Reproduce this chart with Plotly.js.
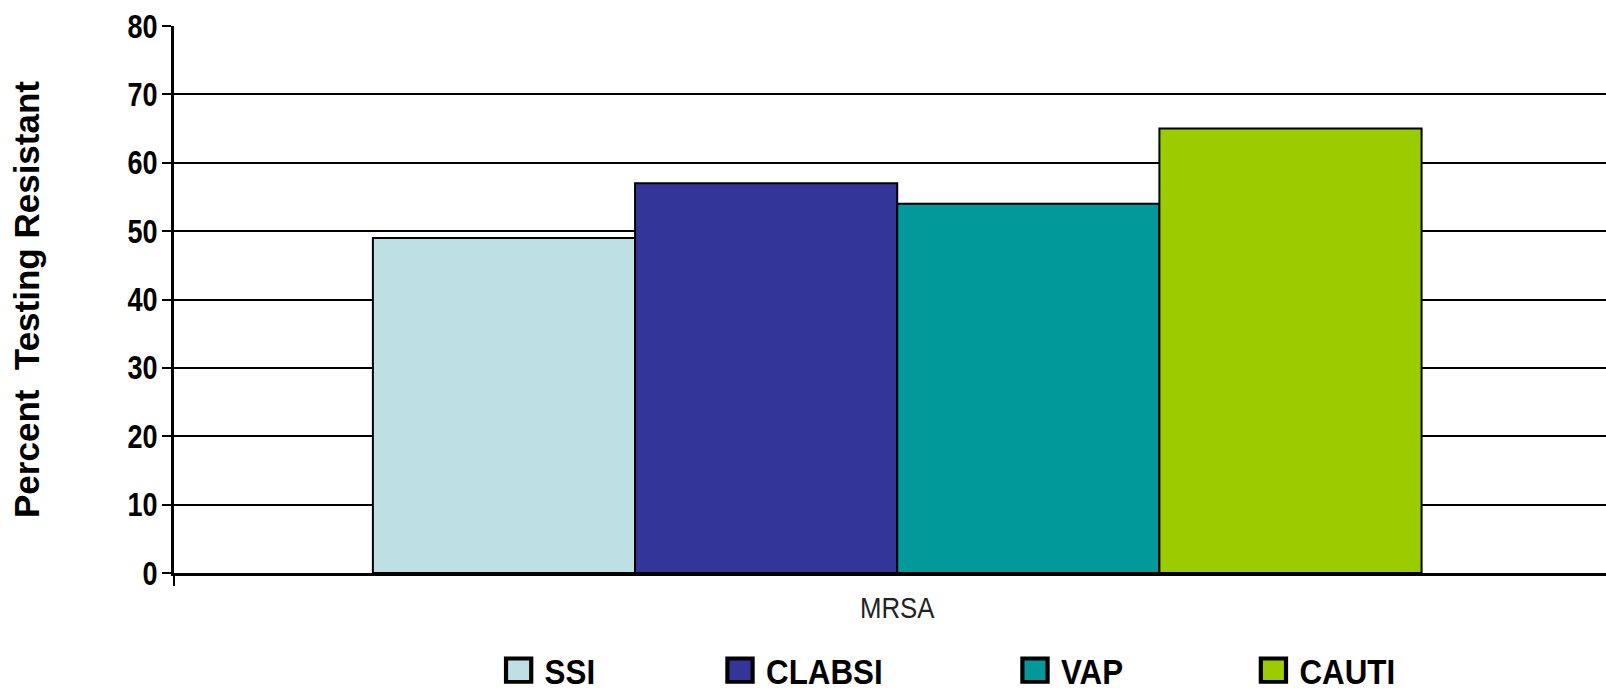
<!DOCTYPE html>
<html>
<head>
<meta charset="utf-8">
<script src="https://cdn.plot.ly/plotly-3.0.1.min.js"></script>
<style>
  html, body { margin: 0; padding: 0; background: #fff; }
  #chart { width: 1606px; height: 691px; }
  /* enlarge legend swatches around their own centre */
  g.legendpoints { transform-box: fill-box; transform-origin: center; transform: scale(2.1, 1.95); }
  /* condensed, tall look of the original lettering */
  .legendtext, .legend2text, .legend3text, .legend4text {
    transform-box: fill-box; transform-origin: left center; transform: scale(0.98, 1.1);
  }
  g.ytick { transform-origin: 158.5px 0px; transform: scaleX(0.82); }
  g.xtick { transform-origin: 897px 0px; transform: scaleX(0.86); }
</style>
</head>
<body>
<div id="chart"></div>
<script>
// ---- data ----
const categories = ["MRSA"];
const seriesNames = ["SSI", "CLABSI", "VAP", "CAUTI"];
const ssiValues = [49];
const clabsiValues = [57];
const vapValues = [54];
const cautiValues = [65];
const yTickValues = [0, 10, 20, 30, 40, 50, 60, 70, 80];
const yTickLabels = ["0", "10", "20", "30", "40", "50", "60", "70", "80"];

// ---- styles ----
const colors = ["#bce0e3", "#343599", "#01999a", "#9bcc00"];
const seriesValues = [ssiValues, clabsiValues, vapValues, cautiValues];
const legendIds = ["legend", "legend2", "legend3", "legend4"];
const legendX = [0.2225, 0.3771, 0.5831, 0.7496];

const sans = "Liberation Sans, Arial, sans-serif";

const traces = seriesNames.map((name, i) => ({
  type: "bar",
  name: name,
  x: categories,
  y: seriesValues[i],
  marker: { color: colors[i], line: { color: "#000", width: 2 } },
  legend: legendIds[i],
  hoverinfo: "x+y+name"
}));

function legendDef(x) {
  return {
    orientation: "h",
    x: x, xanchor: "left",
    y: -0.178, yanchor: "middle",
    font: { family: sans, size: 32, color: "#000", weight: "bold" },
    itemwidth: 42,
    bgcolor: "rgba(0,0,0,0)",
    borderwidth: 0
  };
}

const layout = {
  width: 1606,
  height: 691,
  margin: { l: 174, r: 0, t: 26, b: 118, pad: 0, autoexpand: false },
  paper_bgcolor: "#fff",
  plot_bgcolor: "#fff",
  barmode: "group",
  bargap: 0.275,
  bargroupgap: 0,
  showlegend: true,
  legend: legendDef(legendX[0]),
  legend2: legendDef(legendX[1]),
  legend3: legendDef(legendX[2]),
  legend4: legendDef(legendX[3]),
  xaxis: {
    type: "category",
    range: [-0.5, 0.49],
    showgrid: false,
    showline: true,
    linecolor: "#000",
    linewidth: 3,
    ticks: "outside",
    tickson: "boundaries",
    ticklen: 10,
    tickwidth: 2,
    tickcolor: "#000",
    tickfont: { family: sans, size: 30, color: "#222" },
    ticklabelstandoff: 6,
    fixedrange: true,
    automargin: false
  },
  yaxis: {
    range: [0, 80],
    tickmode: "array",
    tickvals: yTickValues,
    ticktext: yTickLabels,
    showgrid: true,
    gridcolor: "#000",
    gridwidth: 2,
    zeroline: false,
    showline: true,
    linecolor: "#000",
    linewidth: 3,
    ticks: "outside",
    ticklen: 9,
    tickwidth: 2,
    tickcolor: "#000",
    tickfont: { family: sans, size: 33, color: "#000", weight: "bold" },
    ticklabelstandoff: -2,
    title: {
      text: "Percent  Testing Resistant",
      font: { family: sans, size: 35, color: "#000", weight: "bold" },
      standoff: 78
    },
    fixedrange: true,
    automargin: false
  }
};

Plotly.newPlot("chart", traces, layout, { displayModeBar: false, staticPlot: true });
</script>
</body>
</html>
